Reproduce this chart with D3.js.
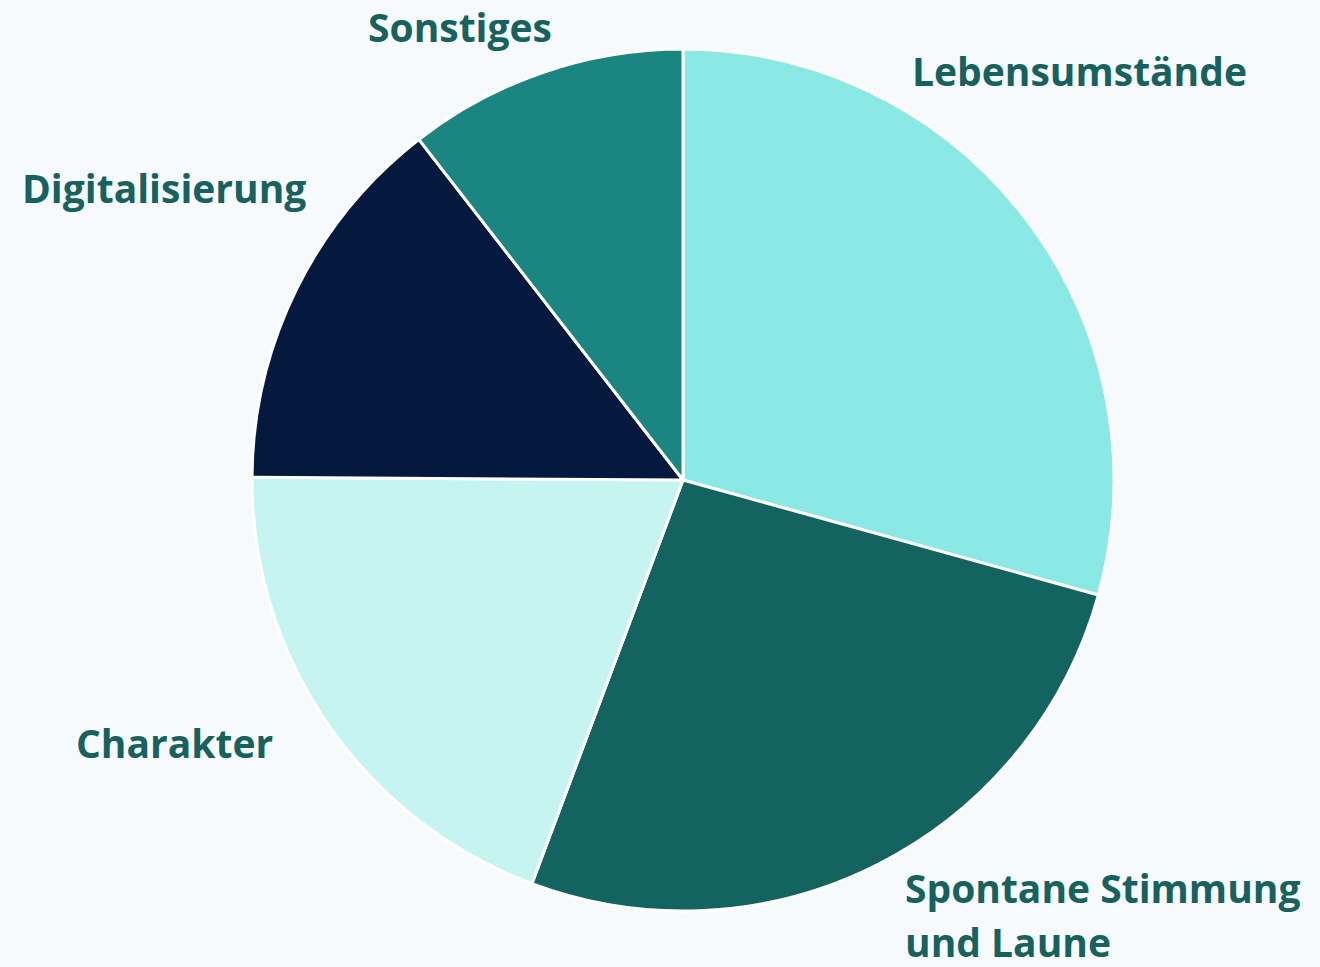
<!DOCTYPE html>
<html>
<head>
<meta charset="utf-8">
<script src="https://cdn.jsdelivr.net/npm/d3@7"></script>
<style>
  html, body { margin: 0; padding: 0; background: #f6fafc; }
  svg { display: block; }
</style>
</head>
<body>
<script>
let x = 1320;
let y = 967;

// slices, clockwise from 12 o'clock
let categories = ["Lebensumstände", "Spontane Stimmung und Laune", "Charakter", "Digitalisierung", "Sonstiges"];
let values = [29.3, 26.4, 19.4, 14.4, 10.5];
let colors = ["#8be9e5", "#136361", "#c5f4f1", "#05193f", "#1b8581"];

// label lines and where they sit (left edge, first baseline)
let labelLines = [["Lebensumstände"], ["Spontane Stimmung", "und Laune"], ["Charakter"], ["Digitalisierung"], ["Sonstiges"]];
let labelPos = [[912, 86], [905, 903], [76, 758], [22, 203], [368, 42]];

let cx = 683, cy = 480, radius = 431;

let svg = d3.select("body")
  .append("svg")
  .attr("width", x)
  .attr("height", y)
  .attr("viewBox", "0, 0, " + x + ", " + y);

svg.append("rect")
  .attr("width", x)
  .attr("height", y)
  .attr("fill", "#f6fafc");

let pie = d3.pie().sort(null).value(d => d);
let arc = d3.arc().innerRadius(0).outerRadius(radius);

let g = svg.append("g")
  .attr("transform", "translate(" + cx + ", " + cy + ")");

g.selectAll(".slice")
  .data(pie(values))
  .enter()
  .append("path")
  .attr("class", "slice")
  .attr("d", arc)
  .attr("fill", (d, i) => colors[i])
  .attr("stroke", "#ffffff")
  .attr("stroke-width", 3)
  .attr("stroke-linejoin", "round");

categories.forEach((c, i) => {
  let t = svg.append("text")
    .attr("x", labelPos[i][0])
    .attr("y", labelPos[i][1])
    .attr("font-family", "'Open Sans', sans-serif")
    .attr("font-weight", "bold")
    .attr("font-size", 39)
    .attr("fill", "#17625f");
  labelLines[i].forEach((line, j) => {
    t.append("tspan")
      .attr("x", labelPos[i][0])
      .attr("dy", j == 0 ? 0 : 54)
      .text(line);
  });
});
</script>
</body>
</html>
